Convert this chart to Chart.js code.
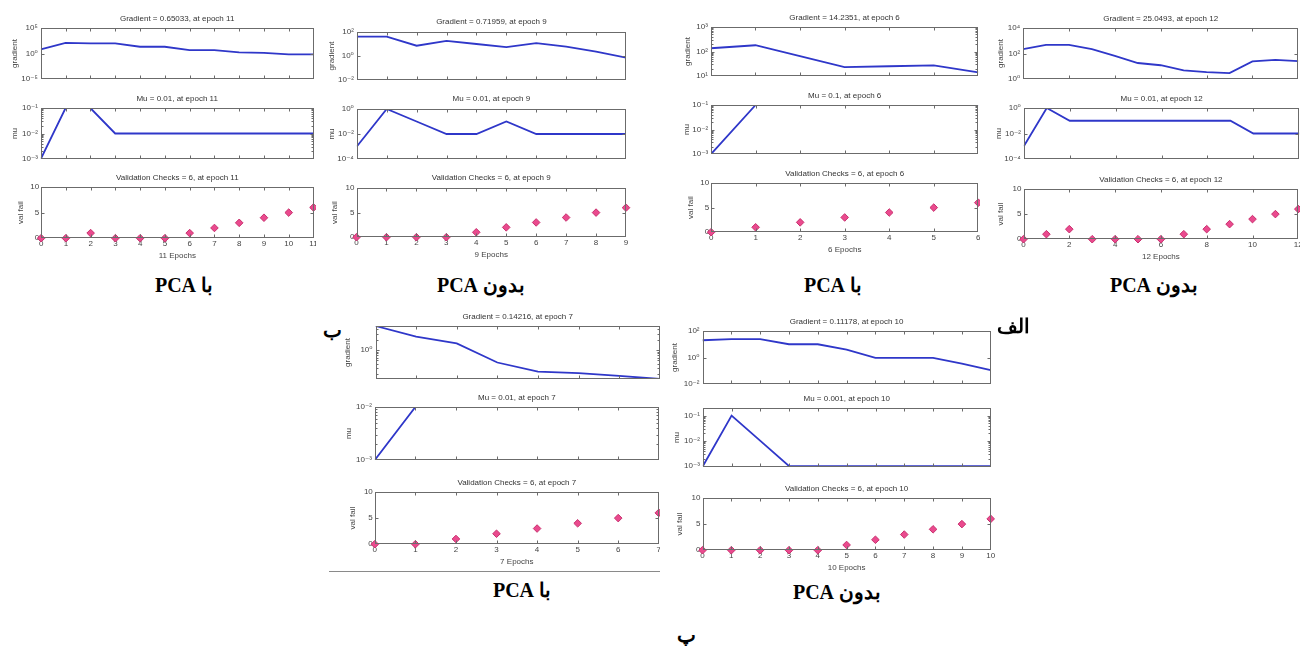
<!DOCTYPE html>
<html><head><meta charset="utf-8">
<script src="https://cdn.jsdelivr.net/npm/chart.js@4.4.0/dist/chart.umd.min.js"></script>
<style>
html,body{margin:0;padding:0;background:#fff;}
body{width:1300px;height:646px;position:relative;overflow:hidden;}
canvas{position:absolute;}
.cap{position:absolute;font:bold 20px "Liberation Serif","DejaVu Serif",serif;color:#000;transform:translate(-50%,-50%);white-space:nowrap;}
.sep{position:absolute;height:1px;background:#8a8a8a;}
</style></head><body>
<script>
// ---------------- DATA ----------------
const epochCounts = [11, 9, 6, 12, 7, 10];
const xTickSteps  = [1, 1, 1, 2, 1, 1];

const gradient_p1 = [6.2, 126, 100, 94, 21, 21, 4.5, 4.5, 1.6, 1.35, 0.7, 0.65];
const gradient_p2 = [41, 41, 7.2, 18, 10, 5.6, 12, 6, 2.3, 0.72];
const gradient_p3 = [136, 180, 65, 23, 25, 27, 14.2];
const gradient_p4 = [220, 475, 475, 220, 66, 18, 12, 4.7, 3.5, 2.9, 24, 32, 25];
const gradient_p5 = [5.0, 2.45, 1.56, 0.43, 0.234, 0.21, 0.175, 0.142];
const gradient_p6 = [20, 24, 24, 10, 10, 4, 0.94, 0.94, 0.94, 0.35, 0.112];

const mu_p1 = [0.001, 0.1, 0.1, 0.01, 0.01, 0.01, 0.01, 0.01, 0.01, 0.01, 0.01, 0.01];
const mu_p2 = [0.001, 1, 0.1, 0.01, 0.01, 0.1, 0.01, 0.01, 0.01, 0.01];
const mu_p3 = [0.001, 0.1, 0.1, 0.1, 0.1, 0.1, 0.1];
const mu_p4 = [0.001, 1, 0.1, 0.1, 0.1, 0.1, 0.1, 0.1, 0.1, 0.1, 0.01, 0.01, 0.01];
const mu_p5 = [0.001, 0.01, 0.01, 0.01, 0.01, 0.01, 0.01, 0.01];
const mu_p6 = [0.001, 0.1, 0.01, 0.001, 0.001, 0.001, 0.001, 0.001, 0.001, 0.001, 0.001];

const valfail_p1 = [0, 0, 1, 0, 0, 0, 1, 2, 3, 4, 5, 6];
const valfail_p2 = [0, 0, 0, 0, 1, 2, 3, 4, 5, 6];
const valfail_p3 = [0, 1, 2, 3, 4, 5, 6];
const valfail_p4 = [0, 1, 2, 0, 0, 0, 0, 1, 2, 3, 4, 5, 6];
const valfail_p5 = [0, 0, 1, 2, 3, 4, 5, 6];
const valfail_p6 = [0, 0, 0, 0, 0, 1, 2, 3, 4, 5, 6];

const gradRanges = [[1e-5, 1e5], [1e-2, 1e2], [1e1, 1e3], [1e0, 1e4], [0.142, 5.0], [1e-2, 1e2]];
const gradTicks  = [[1e-5, 1, 1e5], [1e-2, 1, 1e2], [10, 100, 1000], [1, 100, 1e4], [1], [1e-2, 1, 1e2]];
const muRanges   = [[1e-3, 1e-1], [1e-4, 1], [1e-3, 1e-1], [1e-4, 1], [1e-3, 1e-2], [0.00093, 0.2]];
const muTicks    = [[1e-3, 1e-2, 1e-1], [1e-4, 1e-2, 1], [1e-3, 1e-2, 1e-1], [1e-4, 1e-2, 1], [1e-3, 1e-2], [1e-3, 1e-2, 1e-1]];
const valTicks   = [0, 5, 10];

const gradTitles = ["Gradient = 0.65033, at epoch 11", "Gradient = 0.71959, at epoch 9", "Gradient = 14.2351, at epoch 6",
                    "Gradient = 25.0493, at epoch 12", "Gradient = 0.14216, at epoch 7", "Gradient = 0.11178, at epoch 10"];
const muTitles   = ["Mu = 0.01, at epoch 11", "Mu = 0.01, at epoch 9", "Mu = 0.1, at epoch 6",
                    "Mu = 0.01, at epoch 12", "Mu = 0.01, at epoch 7", "Mu = 0.001, at epoch 10"];
const valTitles  = ["Validation Checks = 6, at epoch 11", "Validation Checks = 6, at epoch 9", "Validation Checks = 6, at epoch 6",
                    "Validation Checks = 6, at epoch 12", "Validation Checks = 6, at epoch 7", "Validation Checks = 6, at epoch 10"];
const captions   = ["با PCA", "بدون PCA", "با PCA", "بدون PCA", "با PCA", "بدون PCA"];
const groupLetters = ["الف", "ب", "پ"];

const gradients = [gradient_p1, gradient_p2, gradient_p3, gradient_p4, gradient_p5, gradient_p6];
const mus = [mu_p1, mu_p2, mu_p3, mu_p4, mu_p5, mu_p6];
const valfails = [valfail_p1, valfail_p2, valfail_p3, valfail_p4, valfail_p5, valfail_p6];

// ---------------- LAYOUT ----------------
const panels = [
  {L:41,    R:313.5,  g:[28,78.7],    m:[108,158.7],   v:[187.3,238.7], clipR:316,   off:[26,26,20.3],   tg:9.5, minorG:false, minorM:true},
  {L:356.7, R:626,    g:[32,80],      m:[108.7,158.7], v:[188,237.3],   clipR:633,   off:[25,25,21.7],   tg:10,  minorG:false, minorM:false},
  {L:711,   R:978.3,  g:[27.3,76.7],  m:[105.3,154],   v:[182.7,231.7], clipR:980,   off:[23,24.3,20.3], tg:9.5, minorG:true,  minorM:true},
  {L:1023.3,R:1298.3, g:[28,79.3],    m:[108,158.7],   v:[188.7,239.3], clipR:1300,  off:[22.3,25,22.7], tg:9.5, minorG:false, minorM:false},
  {L:375,   R:659.3,  g:[326,379],    m:[407.3,460.7], v:[491.7,544],   clipR:660.5, off:[27.7,26,22],   tg:9.5, minorG:true,  minorM:true},
  {L:702.7, R:990.7,  g:[330.7,384],  m:[408,467.3],   v:[498.3,551],   clipR:1000,  off:[27.7,26,22.7], tg:9,   minorG:false, minorM:true}
];
const captionPos = [[184,285],[481,285],[833,285],[1154,285],[522,590],[837,592]];
const letterPos  = [[1013,326],[332,330],[686,635]];

const FONT = '"Liberation Sans", Arial, "DejaVu Sans", sans-serif';
const TXT = '#444';
const SUP = {'-':'\u207B','0':'\u2070','1':'\u00B9','2':'\u00B2','3':'\u00B3','4':'\u2074','5':'\u2075','6':'\u2076','7':'\u2077','8':'\u2078','9':'\u2079'};
function pow10Label(v){ const e = Math.round(Math.log10(v)); return '10' + String(e).split('').map(c=>SUP[c]).join(''); }

const framePlugin = {
  id: 'frame',
  afterDatasetsDraw(chart, args, o) {
    const {ctx, chartArea:a, scales:{x, y}} = chart;
    ctx.save();
    ctx.strokeStyle = '#6b6b6b'; ctx.lineWidth = 1;
    const l = Math.round(a.left) + 0.5, r = Math.round(a.right) - 0.5, t = Math.round(a.top) + 0.5, b = Math.round(a.bottom) - 0.5;
    ctx.strokeRect(l, t, r - l, b - t);
    ctx.beginPath();
    const tl = 3;
    x.ticks.forEach(tk => { const px = Math.round(x.getPixelForValue(tk.value)) + 0.5; if (px <= l + 1 || px >= r - 1) return;
      ctx.moveTo(px, b); ctx.lineTo(px, b - tl); ctx.moveTo(px, t); ctx.lineTo(px, t + tl); });
    y.ticks.forEach(tk => { const py = Math.round(y.getPixelForValue(tk.value)) + 0.5; if (py <= t + 1 || py >= b - 1) return;
      ctx.moveTo(l, py); ctx.lineTo(l + tl, py); ctx.moveTo(r, py); ctx.lineTo(r - tl, py); });
    if (o.minor) {
      const lo = Math.floor(Math.log10(y.min)), hi = Math.ceil(Math.log10(y.max));
      for (let d = lo; d <= hi; d++) for (let k = 2; k <= 9; k++) {
        const v = k * Math.pow(10, d); if (v <= y.min || v >= y.max) continue;
        const py = Math.round(y.getPixelForValue(v)) + 0.5;
        ctx.moveTo(l, py); ctx.lineTo(l + 2, py); ctx.moveTo(r, py); ctx.lineTo(r - 2, py);
      }
    }
    ctx.stroke();
    ctx.fillStyle = '#333'; ctx.font = '8px ' + FONT; ctx.textAlign = 'center'; ctx.textBaseline = 'middle';
    ctx.fillText(o.title, (a.left + a.right) / 2, a.top - o.gap);
    ctx.restore();
  }
};

function makeChart(c) {
  const padT = 16, padL = c.off + 4.8;
  const padR = c.clipR - c.R;
  const padB = c.showX ? 22.8 : 7;
  const W = Math.round(c.R - c.L + padL + padR), H = Math.round(c.B - c.T + padT + padB);
  const cv = document.createElement('canvas');
  cv.width = W; cv.height = H;
  cv.style.left = (c.L - padL) + 'px'; cv.style.top = (c.T - padT) + 'px';
  cv.style.width = W + 'px'; cv.style.height = H + 'px';
  document.body.appendChild(cv);
  const ds = c.scatter ? {
      data: c.values.map((v, i) => ({x: i, y: v})), showLine: false, pointStyle: 'rectRot', pointRadius: 3.8,
      backgroundColor: '#ea4a8e', borderColor: '#c8306e', borderWidth: 1, clip: false
    } : {
      data: c.values.map((v, i) => ({x: i, y: v})), borderColor: '#2f37c9', borderWidth: 1.8, pointRadius: 0, tension: 0, fill: false
    };
  new Chart(cv, {
    type: 'line',
    data: {datasets: [ds]},
    plugins: [framePlugin],
    options: {
      responsive: false, animation: false, devicePixelRatio: 1,
      layout: {autoPadding: false, padding: {top: padT, right: padR, left: 0, bottom: 0}},
      plugins: {legend: {display: false}, tooltip: {enabled: false}, title: {display: false},
                frame: {title: c.title, gap: c.gap, minor: !!c.minor}},
      scales: {
        x: {type: 'linear', min: 0, max: c.xMax, grid: {display: false, drawTicks: false}, border: {display: false},
            ticks: {display: c.showX, stepSize: c.xStep, padding: 1, autoSkip: false, maxRotation: 0, color: TXT, font: {family: FONT, size: 8}},
            title: {display: c.showX, text: c.xMax + ' Epochs', color: TXT, font: {family: FONT, size: 8}, padding: {top: 0, bottom: 0}},
            afterFit: s => { s.height = padB; s.paddingLeft = 0; s.paddingRight = 0; }},
        y: {type: c.log ? 'logarithmic' : 'linear', min: c.yMin, max: c.yMax, grid: {display: false, drawTicks: false}, border: {display: false},
            ticks: {padding: c.log ? 3 : 2, color: TXT, font: {family: FONT, size: 8}, callback: v => c.log ? pow10Label(v) : String(v)},
            afterBuildTicks: s => { s.ticks = c.yTicks.map(v => ({value: v})); },
            title: {display: true, text: c.yLabel, color: TXT, font: {family: FONT, size: 8}, padding: {top: 0, bottom: 0}},
            afterFit: s => { s.width = padL; s.paddingTop = 0; s.paddingBottom = 0; }}
      }
    }
  });
}

panels.forEach((p, i) => {
  const n = epochCounts[i];
  makeChart({L: p.L, R: p.R, T: p.g[0], B: p.g[1], clipR: p.clipR, off: p.off[0], gap: p.tg, showX: false,
    log: true, yMin: gradRanges[i][0], yMax: gradRanges[i][1], yTicks: gradTicks[i], yLabel: 'gradient',
    xMax: n, xStep: xTickSteps[i], title: gradTitles[i], values: gradients[i], minor: p.minorG});
  makeChart({L: p.L, R: p.R, T: p.m[0], B: p.m[1], clipR: p.clipR, off: p.off[1], gap: p.tg, showX: false,
    log: true, yMin: muRanges[i][0], yMax: muRanges[i][1], yTicks: muTicks[i], yLabel: 'mu',
    xMax: n, xStep: xTickSteps[i], title: muTitles[i], values: mus[i], minor: p.minorM});
  makeChart({L: p.L, R: p.R, T: p.v[0], B: p.v[1], clipR: p.clipR, off: p.off[2], gap: p.tg, showX: true,
    log: false, yMin: 0, yMax: 10, yTicks: valTicks, yLabel: 'val fail',
    xMax: n, xStep: xTickSteps[i], title: valTitles[i], values: valfails[i], scatter: true});
  const d = document.createElement('div');
  d.className = 'cap'; d.dir = 'rtl'; d.textContent = captions[i];
  d.style.left = captionPos[i][0] + 'px'; d.style.top = captionPos[i][1] + 'px';
  document.body.appendChild(d);
});
groupLetters.forEach((t, i) => {
  const d = document.createElement('div');
  d.className = 'cap'; d.dir = 'rtl'; d.textContent = t;
  d.style.left = letterPos[i][0] + 'px'; d.style.top = letterPos[i][1] + 'px';
  document.body.appendChild(d);
});
const sep = document.createElement('div');
sep.className = 'sep'; sep.style.left = '329px'; sep.style.top = '571px'; sep.style.width = '331px';
document.body.appendChild(sep);
</script>
</body></html>
